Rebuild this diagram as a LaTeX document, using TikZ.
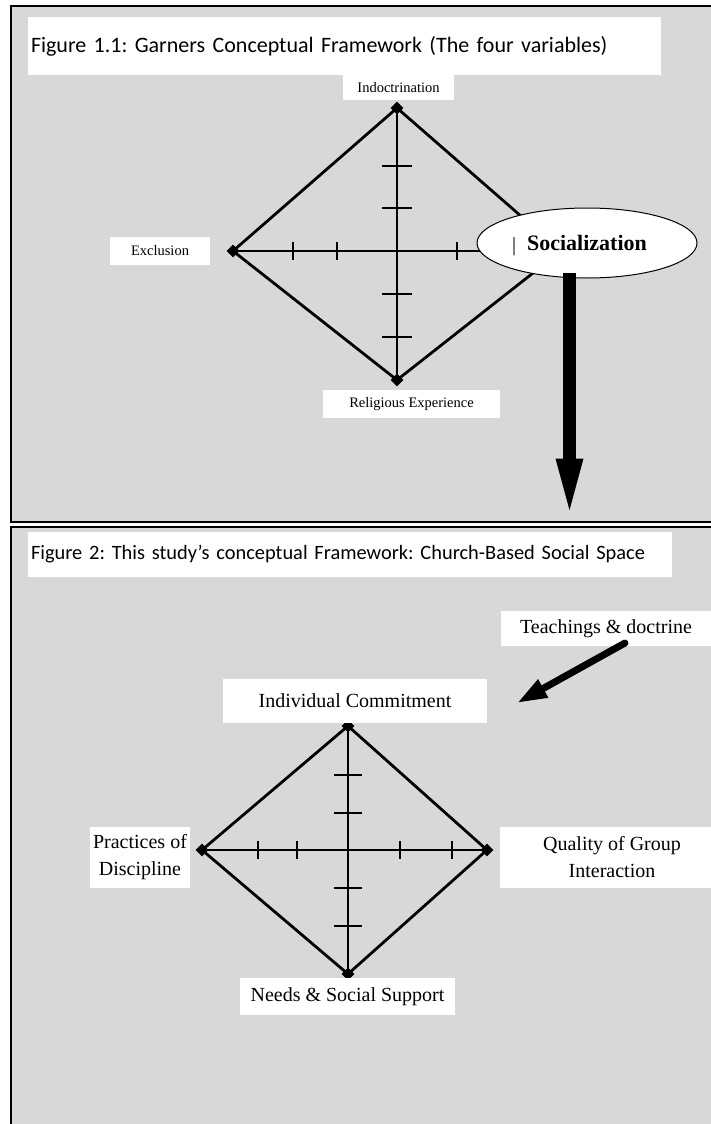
\documentclass[tikz,border=0pt]{standalone}
\usepackage{fontspec}
\setmainfont{Liberation Serif}
\newfontfamily\calibrifont{Carlito}
\usetikzlibrary{shapes.geometric,arrows.meta}

\definecolor{panelgray}{RGB}{216,216,216}

\tikzset{
  panel/.style={fill=panelgray, draw=black, line width=1.5pt},
  titlebox/.style={fill=white, draw=none, inner xsep=3pt, inner ysep=0pt, align=left},
  labelbox/.style={fill=white, draw=none, inner sep=0pt, align=center},
  smalllabel/.style={labelbox, font=\fontsize{14.5}{17}\selectfont},
  biglabel/.style={labelbox, font=\fontsize{20}{27}\selectfont},
  axisline/.style={line width=2.8pt, line join=round},
  tickline/.style={line width=1.8pt},
  vertexmark/.style={diamond, fill=black, inner sep=0pt, minimum size=13pt},
  fatarrow/.style={line width=13pt, -{Triangle[length=63pt, width=23pt]}},
  slimarrow/.style={line width=7pt, line cap=round, -{Triangle[length=30pt, width=19pt]}}
}

\begin{document}
\frenchspacing
\begin{tikzpicture}[x=1pt,y=-1pt]
\useasboundingbox (0,0) rectangle (711,1124);
\clip (0,0) rectangle (711,1124);
\fill[white] (0,0) rectangle (711,1124);

% ---------- upper panel: Garner's framework ----------
\draw[panel] (11,6) rectangle (730,522);
\node[titlebox, minimum width=633pt, minimum height=58pt, text width=627pt,
      font=\calibrifont\fontsize{22}{27}\selectfont] (title1) at (344.5,46)
  {Figure 1.1: Garners Conceptual Framework (The four variables)};

% diamond with its two axes
\coordinate (d1c) at (397,251);
\coordinate (d1t) at (397,108);
\coordinate (d1l) at (233,251);
\coordinate (d1b) at (397,380);
\coordinate (d1r) at (561,251);
\draw[axisline] (d1t) -- (d1r) -- (d1b) -- (d1l) -- cycle;
\draw[axisline] (d1t) -- (d1b);
\draw[axisline] (d1l) -- (d1r);
\foreach \dx in {-104,-60,60,104}
  \draw[tickline] ([shift={(\dx,-9)}]d1c) -- ([shift={(\dx,9)}]d1c);
\foreach \dy in {-85,-43,43,86}
  \draw[tickline] ([shift={(-15,\dy)}]d1c) -- ([shift={(15,\dy)}]d1c);
\foreach \v in {d1t,d1l,d1b,d1r}
  \node[vertexmark] (m-\v) at (\v) {};

\node[smalllabel, minimum width=111pt, minimum height=25pt] (indoc) at (398.5,87.5) {Indoctrination};
\node[smalllabel, minimum width=100pt, minimum height=28pt] (excl) at (160,251) {Exclusion};
\node[smalllabel, minimum width=177pt, minimum height=28pt] (relexp) at (411.5,404) {Religious Experience};

\node[ellipse, draw=black, fill=white, line width=1pt, minimum width=220pt, minimum height=70pt,
      inner sep=0pt, font=\fontsize{22}{26}\selectfont\bfseries] (soc) at (587,243) {Socialization};
\node[inner sep=0pt, font=\fontsize{20}{24}\selectfont] (cursor) at (514,247) {|};

\coordinate (a1s) at (569.5,273);
\coordinate (a1e) at (569.5,521.5);
\draw[fatarrow] (a1s) -- (a1e);

% ---------- lower panel: church-based social space ----------
\draw[panel] (11,527) rectangle (730,1140);
\node[titlebox, minimum width=644pt, minimum height=45pt, text width=638pt,
      font=\calibrifont\fontsize{20.4}{25}\selectfont] (title2) at (350,554.5)
  {Figure 2: This study’s conceptual Framework: Church-Based Social Space};

\coordinate (d2c) at (348,850);
\coordinate (d2t) at (348,726);
\coordinate (d2l) at (202,850);
\coordinate (d2b) at (348,974);
\coordinate (d2r) at (487,850);
\draw[axisline] (d2t) -- (d2r) -- (d2b) -- (d2l) -- cycle;
\draw[axisline] (d2t) -- (d2b);
\draw[axisline] (d2l) -- (d2r);
\foreach \dx in {-90,-51,52,104}
  \draw[tickline] ([shift={(\dx,-9)}]d2c) -- ([shift={(\dx,9)}]d2c);
\foreach \dy in {-75,-37,38,76}
  \draw[tickline] ([shift={(-14,\dy)}]d2c) -- ([shift={(14,\dy)}]d2c);
\foreach \v in {d2t,d2l,d2b,d2r}
  \node[vertexmark] (m-\v) at (\v) {};

\node[biglabel, minimum width=210pt, minimum height=35pt] (teach) at (606,628.5) {Teachings \& doctrine};
\node[biglabel, minimum width=264pt, minimum height=44pt] (indiv) at (355,701) {Individual Commitment};
\node[biglabel, minimum width=100pt, minimum height=61pt] (pract) at (140,857.5) {Practices of\\Discipline};
\node[biglabel, minimum width=224pt, minimum height=61pt] (qual) at (612,857.5) {Quality of Group\\Interaction};
\node[biglabel, minimum width=215pt, minimum height=37pt] (needs) at (347.5,996.5) {Needs \& Social Support};

\coordinate (a2s) at (625,643);
\coordinate (a2e) at (517,703);
\draw[slimarrow] (a2s) -- (a2e);
\end{tikzpicture}
\end{document}
